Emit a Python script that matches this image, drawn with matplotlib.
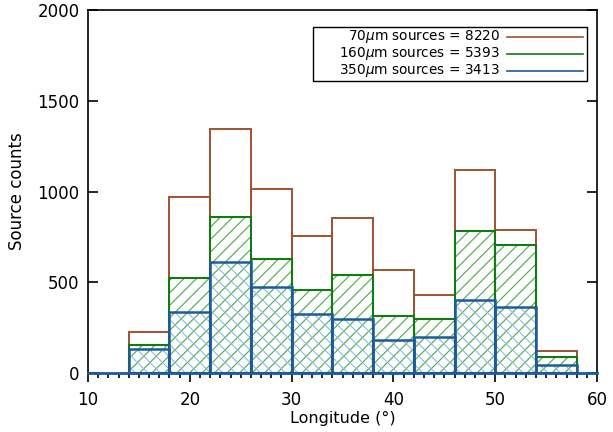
import matplotlib
matplotlib.use("Agg")
import matplotlib.pyplot as plt
from matplotlib.patches import Rectangle
from matplotlib.ticker import MultipleLocator

# bin edges (longitude, deg) and counts per bin
bin_left = [14, 18, 22, 26, 30, 34, 38, 42, 46, 50, 54]
bin_width = 4
counts_70 = [229, 972, 1344, 1013, 756, 854, 569, 431, 1117, 790, 121]
counts_160 = [156, 526, 860, 627, 457, 539, 314, 301, 785, 708, 91]
counts_350 = [132, 336, 614, 475, 328, 301, 185, 198, 403, 365, 46]

labels = ["70$\\mu$m sources = 8220",
          "160$\\mu$m sources = 5393",
          "350$\\mu$m sources = 3413"]

brown = "#a0522d"
green = "#137a13"
blue = "#1c5a9c"
green_hatch = "#4aaa4a"
blue_hatch = "#8dbbe3"

# lower dpi so the hatch spacing comes out near the reference;
# point sizes are scaled by S to keep the same pixel sizes
DPI = 75
S = 100 / DPI

plt.rcParams["font.family"] = "DejaVu Sans"
plt.rcParams["mathtext.fontset"] = "dejavusans"
plt.rcParams["hatch.linewidth"] = 0.8 * S

fig = plt.figure(figsize=(613 / DPI, 432 / DPI), dpi=DPI)
ax = fig.add_axes([0.1436, 0.136, 0.8304, 0.841])

# hatching first
ax.bar(bin_left, counts_160, width=bin_width, align="edge", fill=False,
       hatch="//", edgecolor=green_hatch, linewidth=0)
ax.bar(bin_left, counts_350, width=bin_width, align="edge", fill=False,
       hatch="\\\\", edgecolor=blue_hatch, linewidth=0)

# outlines
ax.bar(bin_left, counts_70, width=bin_width, align="edge", fill=False,
       edgecolor=brown, linewidth=1.4 * S)
ax.bar(bin_left, counts_160, width=bin_width, align="edge", fill=False,
       edgecolor=green, linewidth=1.5 * S)
ax.bar(bin_left, counts_350, width=bin_width, align="edge", fill=False,
       edgecolor=blue, linewidth=1.8 * S)

ax.set_xlim(10, 60)
ax.set_ylim(0, 2000)

ax.spines["bottom"].set_color(blue)
ax.spines["bottom"].set_linewidth(2 * S)
ax.spines["top"].set_linewidth(1.2 * S)
ax.spines["left"].set_linewidth(1.2 * S)
ax.spines["right"].set_linewidth(1.2 * S)

ax.xaxis.set_major_locator(MultipleLocator(10))
ax.xaxis.set_minor_locator(MultipleLocator(1))
ax.yaxis.set_major_locator(MultipleLocator(500))
ax.tick_params(axis="x", which="major", direction="out", length=6.5 * S,
               width=1.2 * S, labelsize=12 * S, pad=6 * S)
ax.tick_params(axis="x", which="minor", direction="out", length=3.5 * S,
               width=1.2 * S)
ax.tick_params(axis="y", which="major", direction="in", length=7 * S,
               width=1.2 * S, labelsize=12 * S, right=True, pad=6 * S)

ax.set_xlabel("Longitude (°)", fontsize=11.5 * S, labelpad=2 * S)
ax.set_ylabel("Source counts", fontsize=12 * S, labelpad=8 * S)

# legend box drawn by hand (text right aligned, line on the right)
ax.add_patch(Rectangle((0.442, 0.805), 0.538, 0.148, transform=ax.transAxes,
                       fill=False, edgecolor="black", linewidth=1.0 * S,
                       zorder=5))
row_y = [0.926, 0.879, 0.832]
for lab, col, yy in zip(labels, [brown, green, blue], row_y):
    ax.text(0.809, yy, lab, transform=ax.transAxes, ha="right",
            va="center", fontsize=9.8 * S, zorder=6)
    ax.plot([0.823, 0.972], [yy, yy], transform=ax.transAxes, color=col,
            linewidth=1.2 * S, zorder=6)

fig.savefig("out.png", dpi=DPI)
